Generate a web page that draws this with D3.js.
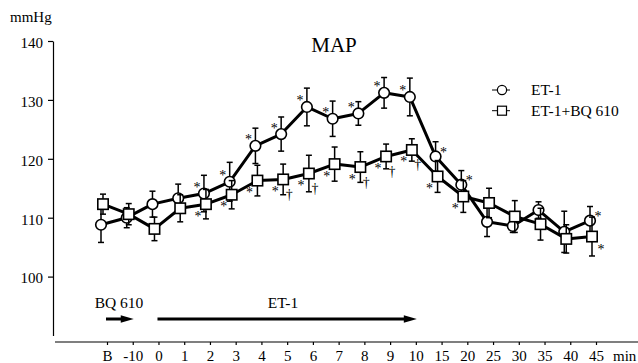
<!DOCTYPE html>
<html>
<head>
<meta charset="utf-8">
<script src="https://cdn.jsdelivr.net/npm/d3@7"></script>
<style>
  body { margin: 0; background: #fff; }
</style>
</head>
<body>
<svg id="chart" width="638" height="363"></svg>
<script>
// values (mean +/- SE, mmHg)
const categories = ["B", "-10", "0", "1", "2", "3", "4", "5", "6", "7", "8", "9", "10", "15", "20", "25", "30", "35", "40", "45"];
const et1 = [108.8, 110.0, 112.3, 113.3, 114.1, 116.1, 122.2, 124.2, 128.8, 126.8, 127.7, 131.2, 130.5, 120.4, 115.6, 109.3, 108.6, 111.3, 107.6, 109.5];
const et1Err = [3.0, 1.7, 2.2, 2.4, 3.1, 3.3, 3.0, 2.9, 3.2, 3.0, 2.0, 2.6, 3.2, 2.5, 2.4, 2.5, 1.1, 1.4, 3.5, 2.4];
const et1Bq = [112.3, 110.6, 108.1, 111.6, 112.3, 113.9, 116.3, 116.5, 117.5, 119.1, 118.6, 120.4, 121.5, 117.0, 113.6, 112.5, 110.2, 108.9, 106.4, 106.8];
const et1BqErr = [1.7, 1.8, 2.0, 2.3, 2.5, 2.4, 2.6, 2.6, 3.1, 2.9, 2.6, 2.1, 1.9, 2.7, 2.7, 2.5, 2.7, 2.7, 2.4, 3.3];
const yTicks = [100, 110, 120, 130, 140];

// significance marks
const et1Stars = ["2", "3", "4", "5", "6", "7", "8", "9", "10"];
const et1StarsRight = ["15", "20", "45"];
const bqStars = ["2", "3", "4", "5", "6", "7", "8", "9", "10", "15", "20"];
const bqStarsRight = ["45"];
const bqDaggers = ["5", "6", "8", "9", "10"];

const svg = d3.select("#chart");

const x = d3.scalePoint()
  .domain(categories)
  .range([107, 596]);

const y = d3.scaleLinear()
  .domain([90, 140])
  .range([335.5, 41]);

// y axis
const yAxis = svg.append("g")
  .attr("transform", "translate(53,0)")
  .call(d3.axisLeft(y).tickValues(yTicks).tickSize(5).tickPadding(5).tickSizeOuter(0));
yAxis.attr("font-size", 15);
yAxis.selectAll("text").attr("dy", "0.42em");
yAxis.selectAll("path, line").attr("stroke", "#000").attr("stroke-width", 1.2);

// x axis (own base line, separate from the y axis)
const xAxis = svg.append("g")
  .attr("transform", "translate(0,342)")
  .call(d3.axisBottom(x).tickSize(3).tickPadding(5));
xAxis.attr("font-size", 15);
xAxis.select(".domain").remove();
xAxis.selectAll("line").attr("stroke", "#000").attr("stroke-width", 1.2);
xAxis.append("line")
  .attr("x1", 55).attr("x2", 638)
  .attr("y1", 0).attr("y2", 0)
  .attr("stroke", "#000").attr("stroke-width", 1.2);
xAxis.append("text")
  .attr("x", 613).attr("y", 8).attr("dy", "0.71em")
  .attr("text-anchor", "start")
  .attr("fill", "#000")
  .text("min");

// texts
svg.append("text").attr("x", 10).attr("y", 22).attr("font-size", 15).text("mmHg");
svg.append("text").attr("x", 334).attr("y", 52).attr("font-size", 21)
  .attr("text-anchor", "middle").text("MAP");

// treatment arrows
function arrow(from, to, label, labelX) {
  const x1 = x(from) - 1, x2 = x(to) + 1, ay = 319;
  svg.append("line")
    .attr("x1", x1).attr("x2", x2 - 8)
    .attr("y1", ay).attr("y2", ay)
    .attr("stroke", "#000").attr("stroke-width", 3);
  svg.append("path")
    .attr("d", `M${x2},${ay} L${x2 - 13},${ay - 3.8} L${x2 - 13},${ay + 3.8} Z`)
    .attr("fill", "#000");
  svg.append("text")
    .attr("x", labelX).attr("y", 308)
    .attr("font-size", 15.5)
    .attr("text-anchor", "middle")
    .text(label);
}
arrow("B", "-10", "BQ 610", 119);
arrow("0", "10", "ET-1", 283);

// one series: error bars, line, markers
function drawSeries(values, errs, shift, shape) {
  const g = svg.append("g").attr("transform", `translate(${shift},0)`);
  const rows = categories.map((c, i) => ({ c: c, v: values[i], e: errs[i] }));

  const bars = g.selectAll(".err")
    .data(rows)
    .enter()
    .append("g")
    .attr("stroke", "#000")
    .attr("stroke-width", 1.5);
  bars.append("line")
    .attr("x1", d => x(d.c)).attr("x2", d => x(d.c))
    .attr("y1", d => y(d.v - d.e)).attr("y2", d => y(d.v + d.e));
  bars.append("line")
    .attr("x1", d => x(d.c) - 3).attr("x2", d => x(d.c) + 3)
    .attr("y1", d => y(d.v + d.e)).attr("y2", d => y(d.v + d.e));
  bars.append("line")
    .attr("x1", d => x(d.c) - 3).attr("x2", d => x(d.c) + 3)
    .attr("y1", d => y(d.v - d.e)).attr("y2", d => y(d.v - d.e));

  g.append("path")
    .datum(rows)
    .attr("fill", "none")
    .attr("stroke", "#000")
    .attr("stroke-width", 3)
    .attr("stroke-linejoin", "round")
    .attr("d", d3.line().x(d => x(d.c)).y(d => y(d.v)));

  if (shape === "circle") {
    g.selectAll(".pt")
      .data(rows)
      .enter()
      .append("circle")
      .attr("cx", d => x(d.c))
      .attr("cy", d => y(d.v))
      .attr("r", 5.3)
      .attr("fill", "#fff")
      .attr("stroke", "#000")
      .attr("stroke-width", 1.6);
  } else {
    g.selectAll(".pt")
      .data(rows)
      .enter()
      .append("rect")
      .attr("x", d => x(d.c) - 5.2)
      .attr("y", d => y(d.v) - 5.2)
      .attr("width", 10.4)
      .attr("height", 10.4)
      .attr("fill", "#fff")
      .attr("stroke", "#000")
      .attr("stroke-width", 1.6);
  }
  return g;
}

const gEt1 = drawSeries(et1, et1Err, -6, "circle");
const gBq = drawSeries(et1Bq, et1BqErr, -4, "square");

// marks beside points; dx/dy give the glyph centre offset
function marks(g, list, values, symbol, dx, dy, lift) {
  g.selectAll(null)
    .data(list)
    .enter()
    .append("text")
    .attr("x", c => x(c) + dx)
    .attr("y", c => y(values[categories.indexOf(c)]) + dy + lift)
    .attr("font-size", 14)
    .attr("text-anchor", "middle")
    .text(symbol);
}
marks(gEt1, et1Stars, et1, "*", -7, -9, 7.5);
marks(gEt1, et1StarsRight, et1, "*", 8, -7, 7.5);
marks(gBq, bqStars, et1Bq, "*", -8, 9, 7.5);
marks(gBq, bqStarsRight, et1Bq, "*", 9, 10, 7.5);
marks(gBq, bqDaggers, et1Bq, "\u2020", 6, 16, 3.5);

// legend
const legend = svg.append("g").attr("transform", "translate(502,0)");
[["circle", "ET-1", 90], ["square", "ET-1+BQ 610", 110.7]].forEach(([shape, label, ly]) => {
  legend.append("line")
    .attr("x1", -10).attr("x2", 8)
    .attr("y1", ly).attr("y2", ly)
    .attr("stroke", "#000").attr("stroke-width", 1);
  if (shape === "circle") {
    legend.append("circle").attr("cx", 0).attr("cy", ly).attr("r", 4.6)
      .attr("fill", "#fff").attr("stroke", "#000").attr("stroke-width", 1.2);
  } else {
    legend.append("rect").attr("x", -4.5).attr("y", ly - 4.5).attr("width", 9).attr("height", 9)
      .attr("fill", "#fff").attr("stroke", "#000").attr("stroke-width", 1.2);
  }
  legend.append("text")
    .attr("x", 29).attr("y", ly + 5)
    .attr("font-size", 15.5)
    .text(label);
});

// serif type everywhere, as in the figure
svg.selectAll("text")
  .style("font-family", '"Liberation Serif", serif')
  .style("fill", "#000");
</script>
</body>
</html>
